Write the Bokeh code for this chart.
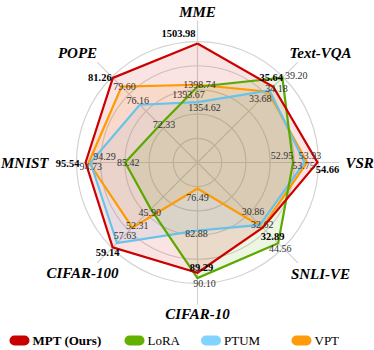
import numpy as np
from bokeh.plotting import figure
from bokeh.models import Range1d
from bokeh.core.properties import value
from bokeh.embed import file_html
from bokeh.resources import INLINE

# ---------------- data ----------------
axes_names = ["MME", "Text-VQA", "VSR", "SNLI-VE", "CIFAR-10", "CIFAR-100", "MNIST", "POPE"]
mpt = [1503.98, 35.64, 54.66, 32.89, 89.29, 59.14, 95.54, 81.26]
lora = [1393.67, 39.20, 52.95, 44.56, 90.10, 45.90, 85.42, 72.33]
ptum = [1354.62, 34.18, 53.75, 30.86, 82.88, 57.63, 94.29, 76.16]
vpt = [1398.74, 33.68, 53.93, 32.62, 76.49, 52.31, 94.73, 79.60]
# per-axis scale (value at centre, value at outer ring)
axis_lo = [1200.4, 6.0, 46.26, -16.1, 72.53, 29.73, 66.92, 65.2]
axis_hi = [1506.5, 39.2, 54.66, 47.7, 90.77, 59.14, 97.61, 81.3]
series_names = ["MPT (Ours)", "LoRA", "PTUM", "VPT"]

# ---------------- layout / style ----------------
R = 120.0
ring_step = 24.2
spoke_len = 142.0
FONT = "Times New Roman"
line_colors = {"MPT (Ours)": "#CC0000", "LoRA": "#5AA800", "PTUM": "#68C2EA", "VPT": "#FF9A00"}
legend_colors = {"MPT (Ours)": "#C80000", "LoRA": "#62B100", "PTUM": "#80D4FF", "VPT": "#FF9A0A"}
# label offsets (pixels) from each vertex
label_off = {
    "MPT (Ours)": [(-19, 10), (-2, 9), (10, -7), (10, -9), (4, 5), (-5, -5), (-18, -1), (-13, 0)],
    "LoRA": [(-9, -8), (14, 2), (-11, 7), (2, -5), (7, -5), (-1, -3), (3, 0), (4, 0)],
    "PTUM": [(7, -5.5), (7, 2), (-1, -3), (-7, 13), (-1, -3), (8, 7), (14, 6), (-2, 4)],
    "VPT": [(2, 0), (-8, -7), (3, 7), (0, 3), (0, -9), (5, 2), (2, -4), (3, 0)],
}
# axis label placement: (x, y, align)
axis_label_pos = [(0, 150.5, "center"), (123, 110, "center"), (148, 0, "left"), (123, -111, "center"),
                  (0, -151, "center"), (-115, -110, "center"), (-149, 0, "right"), (-120, 110, "center")]

angles = np.deg2rad(90 - 45 * np.arange(len(axes_names)))

p = figure(width=374, height=350, x_range=Range1d(-197, 177), y_range=Range1d(-188, 162),
           output_backend="svg", toolbar_location=None, x_axis_location=None, y_axis_location=None,
           min_border=0, background_fill_color="white", border_fill_color="white")
p.outline_line_color = None
p.xgrid.visible = False
p.ygrid.visible = False

# grid rings and spokes
for k in range(1, 6):
    p.circle(x=0, y=0, radius=ring_step * k, fill_color=None, line_color="#D3D3D3", line_width=1.2)
p.segment(x0=np.zeros(8), y0=np.zeros(8), x1=spoke_len * np.cos(angles), y1=spoke_len * np.sin(angles),
          line_color="#D3D3D3", line_width=1.2)

data = {"MPT (Ours)": mpt, "LoRA": lora, "PTUM": ptum, "VPT": vpt}
lo = np.array(axis_lo)
hi = np.array(axis_hi)
coords = {}
for name in series_names:
    v = np.array(data[name])
    r = R * (v - lo) / (hi - lo)
    coords[name] = (r * np.cos(angles), r * np.sin(angles))

draw_order = ["VPT", "PTUM", "LoRA", "MPT (Ours)"]
for name in draw_order:
    x, y = coords[name]
    p.patch(x=list(x), y=list(y), fill_color=line_colors[name], fill_alpha=0.11, line_color=None)
for name in draw_order:
    x, y = coords[name]
    p.line(x=list(x) + [x[0]], y=list(y) + [y[0]], line_color=line_colors[name], line_width=2.2,
           line_join="miter")

# value labels
for name in ["VPT", "PTUM", "LoRA", "MPT (Ours)"]:
    x, y = coords[name]
    offs = np.array(label_off[name], dtype=float)
    bold = name == "MPT (Ours)"
    p.text(x=x + offs[:, 0], y=y + offs[:, 1], text=[f"{v:.2f}" for v in data[name]],
           text_font=value(FONT), text_font_size="10.5px" if bold else "10px",
           text_font_style="bold" if bold else "normal",
           text_color="#000000" if bold else "#333333", text_align="center", text_baseline="middle")

# axis labels
for name, (lx, ly, al) in zip(axes_names, axis_label_pos):
    p.text(x=[lx], y=[ly], text=[name], text_font=value(FONT), text_font_size="15px",
           text_font_style="bold italic", text_color="#000000", text_align=al, text_baseline="middle")

# legend
leg_x = [-178, -63, 13.5, 104]
leg_y = -178
for name, cx in zip(series_names, leg_x):
    p.segment(x0=[cx - 5], y0=[leg_y], x1=[cx + 5], y1=[leg_y], line_color=legend_colors[name],
              line_width=10, line_cap="round")
    p.text(x=[cx + 13], y=[leg_y], text=[name], text_font=value(FONT), text_font_size="13px",
           text_font_style="bold" if name == "MPT (Ours)" else "normal", text_color="#000000",
           text_align="left", text_baseline="middle")

open("out.html", "w").write(file_html(p, INLINE))
